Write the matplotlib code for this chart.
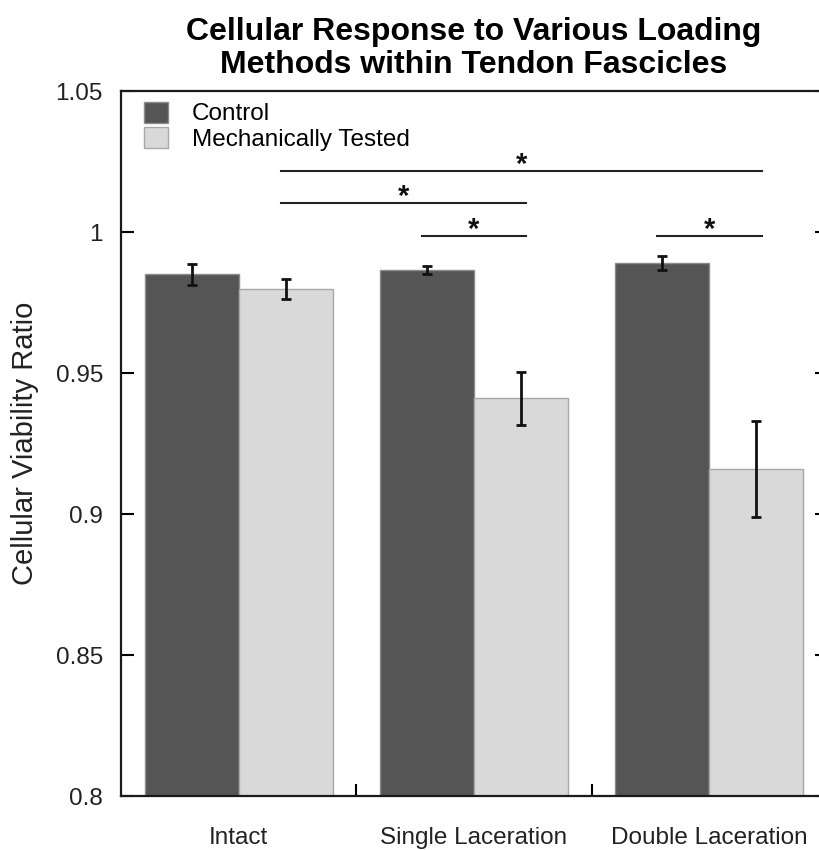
import numpy as np
import matplotlib
matplotlib.use('Agg')
import matplotlib.pyplot as plt
from matplotlib.ticker import FuncFormatter

plt.rcParams['font.family'] = ['Liberation Sans', 'DejaVu Sans']

# data
groups = ['Intact', 'Single Laceration', 'Double Laceration']
series = ['Control', 'Mechanically Tested']
control = [0.9850, 0.9866, 0.9889]
control_err = [0.0038, 0.0015, 0.0025]
tested = [0.9798, 0.9410, 0.9159]
tested_err = [0.0034, 0.0093, 0.0171]

# significance brackets: (group, series) -> (group, series), bracket height
sig_pairs = [((0, 1), (2, 1)), ((0, 1), (1, 1)), ((1, 0), (1, 1)), ((2, 0), (2, 1))]
sig_levels = [1.0216, 1.0102, 0.9986, 0.9986]

colors = ['#555555', '#d9d9d9']
edges = ['#8c8c8c', '#a8a8a8']
width = 0.4
x = np.arange(1, len(groups) + 1)
offsets = [-width / 2, width / 2]

fig = plt.figure(figsize=(8.2, 8.5), dpi=100)
ax = fig.add_axes([121 / 820, 1 - 796 / 850, 706 / 820, 705 / 850])

for vals, errs, off, c, ec, lab in zip([control, tested], [control_err, tested_err],
                                       offsets, colors, edges, series):
    ax.bar(x + off, vals, width, color=c, edgecolor=ec, linewidth=1, label=lab, zorder=2)
    ax.errorbar(x + off, vals, yerr=errs, fmt='none', ecolor='#111111',
                elinewidth=2, capsize=3.8, capthick=2, zorder=3)

# significance lines with stars
for (a, b), lev in zip(sig_pairs, sig_levels):
    x0 = x[a[0]] + offsets[a[1]] - 0.022
    x1 = x[b[0]] + offsets[b[1]] + 0.022
    ax.plot([x0, x1], [lev, lev], color='#222222', lw=1.5, zorder=3)
    ax.text((x0 + x1) / 2, lev - 0.0028, '*', ha='center', va='bottom',
            fontsize=21, fontweight='bold', color='#111111')

ax.set_xlim(0.5, 3.5)
ax.set_ylim(0.8, 1.05)
ax.set_yticks(np.arange(0.8, 1.0501, 0.05))
ax.yaxis.set_major_formatter(FuncFormatter(lambda v, p: f'{v:g}'))
ax.tick_params(axis='y', direction='in', length=9, width=1.5, left=True, right=True,
               labelsize=17.5, pad=13, labelcolor='#222222')

ax.set_xticks([1.5, 2.5])
ax.set_xticklabels([])
ax.set_xticks(x, minor=True)
ax.set_xticklabels(groups, minor=True)
ax.tick_params(axis='x', which='major', direction='in', length=9, width=1.5)
ax.tick_params(axis='x', which='minor', length=0, labelsize=17.5, pad=22,
               labelcolor='#222222')

for s in ax.spines.values():
    s.set_linewidth(1.6)
    s.set_color('#1a1a1a')

ax.set_ylabel('Cellular Viability Ratio', fontsize=21, color='#222222', labelpad=12)
ax.set_title('Cellular Response to Various Loading\nMethods within Tendon Fascicles',
             fontsize=23, fontweight='bold', pad=13, linespacing=1.12)

ax.legend(loc='upper left', bbox_to_anchor=(0.032, 0.985), frameon=False,
          fontsize=17.5, labelspacing=0.08, handlelength=1.0, handleheight=0.95,
          handletextpad=1.0, borderpad=0, borderaxespad=0)

fig.savefig('out.png', dpi=100)
